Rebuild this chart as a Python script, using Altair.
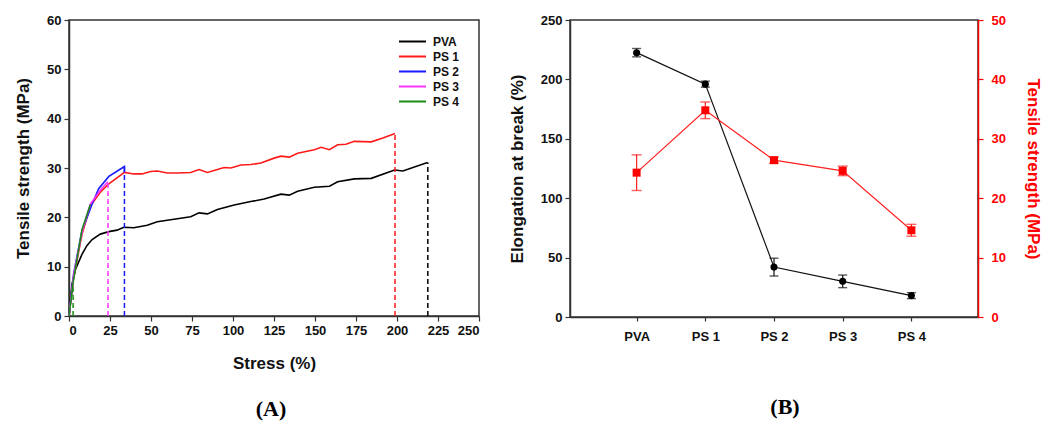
import altair as alt
import pandas as pd

FONT = "Liberation Sans"
SERIF = "Liberation Serif"

# ---------------- Panel A data ----------------
series_names = ["PVA", "PS 1", "PS 2", "PS 3", "PS 4"]
series_colors = ["#000000", "#ff1a1a", "#1a1aff", "#ff33ff", "#1a8c1a"]

pva_x = [0, 1.8, 4, 7.9, 11, 14.1, 19.1, 24.3, 29.3, 33.4, 39.5, 47.7, 53.8, 64, 74.2, 79.3,
         84.4, 90.5, 100.7, 110.8, 119, 129.2, 134.3, 139.4, 149.6, 158.8, 163.8, 174, 184.3,
         198.5, 203.6, 218.6]
pva_y = [0, 6.4, 9.5, 12.5, 14.3, 15.5, 16.6, 17.1, 17.4, 18.0, 17.9, 18.4, 19.1, 19.6, 20.1,
         20.9, 20.7, 21.6, 22.5, 23.2, 23.7, 24.7, 24.5, 25.3, 26.1, 26.3, 27.2, 27.8, 27.9,
         29.6, 29.4, 31.1]
ps1_x = [0, 2.8, 7.9, 13, 19.1, 24.3, 33.8, 39.5, 44.6, 49.7, 53.8, 59.9, 66, 74.2, 79.3,
         84.4, 90.5, 94.6, 98.7, 104.8, 110.8, 117, 125.1, 129.2, 134.3, 139.4, 149.6, 153.7,
         158.8, 163.8, 168.9, 174, 184.3, 191.4, 198.8]
ps1_y = [0, 7.7, 16.5, 22.3, 25.1, 26.8, 29.1, 28.8, 28.8, 29.3, 29.4, 29.0, 29.0, 29.1, 29.7,
         29.1, 29.7, 30.1, 30.0, 30.6, 30.7, 31.0, 32.0, 32.4, 32.2, 33.0, 33.7, 34.2, 33.7,
         34.7, 34.8, 35.4, 35.3, 36.1, 37.0]
ps2_x = [0, 2.8, 7.9, 14.1, 18.1, 24.3, 33.8, 33.8]
ps2_y = [0, 8.5, 17.3, 22.7, 25.8, 28.3, 30.3, 29.1]
ps3_x = [0, 2.8, 7.9, 13, 19.1, 23.7]
ps3_y = [0, 8.2, 17.0, 22.7, 25.5, 27.2]
ps4_x = [0, 2.5, 7.9, 13.0]
ps4_y = [0, 6.8, 17.5, 22.6]

break_x = [218.8, 198.8, 33.8, 23.8, 2.5]
break_y = [31.1, 37.0, 30.2, 27.2, 6.5]

# ---------------- Panel B data ----------------
cats = ["PVA", "PS 1", "PS 2", "PS 3", "PS 4"]
elong = [222.5, 196, 42, 30, 18]
elong_err = [3.5, 2.5, 7.5, 5.3, 2.5]
tens = [24.3, 34.8, 26.4, 24.6, 14.6]
tens_err = [3.0, 1.4, 0.5, 0.8, 1.0]

# ---------------- tables ----------------
rows = []
for name, xs, ys in zip(series_names, [pva_x, ps1_x, ps2_x, ps3_x, ps4_x],
                        [pva_y, ps1_y, ps2_y, ps3_y, ps4_y]):
    for i, (xv, yv) in enumerate(zip(xs, ys)):
        rows.append({"series": name, "x": xv, "y": yv, "i": i})
curves = pd.DataFrame(rows)
drops = pd.DataFrame({"series": series_names, "x": break_x, "y": [0] * 5, "top": break_y})

bdf = pd.DataFrame({
    "cat": cats,
    "e": elong,
    "elo": [v - e for v, e in zip(elong, elong_err)],
    "ehi": [v + e for v, e in zip(elong, elong_err)],
    "t": tens,
    "tlo": [v - e for v, e in zip(tens, tens_err)],
    "thi": [v + e for v, e in zip(tens, tens_err)],
})

# ---------------- Panel A ----------------
xA = alt.X("x:Q", scale=alt.Scale(domain=[0, 250], nice=False),
           axis=alt.Axis(values=list(range(0, 251, 25)), title="Stress (%)",
                         titlePadding=18))
yA = alt.Y("y:Q", scale=alt.Scale(domain=[0, 60], nice=False),
           axis=alt.Axis(values=list(range(0, 61, 10)), title="Tensile strength (MPa)",
                         titlePadding=14))

cscale = alt.Scale(domain=series_names, range=series_colors)
legendA = alt.Legend(title=None, orient="none", legendX=329, legendY=14,
                     symbolType="stroke", symbolSize=729, symbolStrokeWidth=2,
                     clipHeight=15, rowPadding=0, labelOffset=6,
                     labelFont=FONT, labelFontSize=12, labelFontWeight="bold",
                     labelColor="#111")

lines = alt.Chart(curves).mark_line(strokeWidth=1.6).encode(
    x=xA, y=yA,
    color=alt.Color("series:N", scale=cscale, sort=series_names, legend=legendA),
    order="i:Q",
)
dashes = alt.Chart(drops).mark_rule(strokeDash=[5, 3], strokeWidth=1.5).encode(
    x=xA, y=yA, y2="top:Q",
    color=alt.Color("series:N", scale=cscale, sort=series_names, legend=legendA),
)
panelA = alt.layer(lines, dashes).properties(
    width=410, height=296,
    title=alt.TitleParams("(A)", orient="bottom", font=SERIF, fontSize=22, fontWeight="bold",
                          offset=28, dx=-3, color="#000"),
)

# ---------------- Panel B ----------------
xB = alt.X("cat:N", sort=cats, scale=alt.Scale(type="point", padding=0.97),
           axis=alt.Axis(title=None, labelAngle=0, labelPadding=9, tickSize=4))

yE = alt.Y("e:Q", scale=alt.Scale(domain=[0, 250], nice=False),
           axis=alt.Axis(values=list(range(0, 251, 50)), title="Elongation at break (%)",
                         titlePadding=14))
base = alt.Chart(bdf)
black = alt.layer(
    base.mark_line(color="#111", strokeWidth=1.2).encode(x=xB, y=yE),
    base.mark_rule(color="#111", strokeWidth=1.2).encode(x=xB, y=alt.Y("elo:Q"), y2="ehi:Q"),
    base.mark_tick(color="#111", size=9, thickness=1.4).encode(x=xB, y=alt.Y("elo:Q")),
    base.mark_tick(color="#111", size=9, thickness=1.4).encode(x=xB, y=alt.Y("ehi:Q")),
    base.mark_point(filled=True, shape="circle", size=50, color="#000", opacity=1).encode(x=xB, y=yE),
)

yT = alt.Y("t:Q", scale=alt.Scale(domain=[0, 50], nice=False),
           axis=alt.Axis(values=list(range(0, 51, 10)), title="Tensile strength (MPa)",
                         orient="right", titleAngle=90, titlePadding=18, labelPadding=8,
                         domainColor="#ff0000", tickColor="#ff0000", labelColor="#ff0000",
                         titleColor="#ff0000"))
red = alt.layer(
    base.mark_line(color="#ff2020", strokeWidth=1.2).encode(x=xB, y=yT),
    base.mark_rule(color="#ff2020", strokeWidth=1.2).encode(x=xB, y=alt.Y("tlo:Q"), y2="thi:Q"),
    base.mark_tick(color="#ff2020", size=10, thickness=1.4).encode(x=xB, y=alt.Y("tlo:Q")),
    base.mark_tick(color="#ff2020", size=10, thickness=1.4).encode(x=xB, y=alt.Y("thi:Q")),
    base.mark_point(filled=True, shape="square", size=64, color="#ff0000", opacity=1).encode(x=xB, y=yT),
)

panelB = alt.layer(black, red).resolve_scale(y="independent").properties(
    width=408, height=297,
    title=alt.TitleParams("(B)", orient="bottom", font=SERIF, fontSize=22, fontWeight="bold",
                          offset=54, dx=11, color="#000"),
)

chart = alt.hconcat(panelA, panelB, spacing=26).configure_axis(
    labelFont=FONT, labelFontSize=13, labelFontWeight="bold", labelColor="#111",
    titleFont=FONT, titleFontSize=17, titleFontWeight="bold", titleColor="#111",
    domainColor="#333", domainWidth=1.5, tickColor="#333", tickWidth=1.2, tickSize=5,
    grid=False, labelPadding=3,
).configure_view(stroke="#333", strokeWidth=1.5)

chart.save("out.html", embed_options={"renderer": "svg", "actions": False})
